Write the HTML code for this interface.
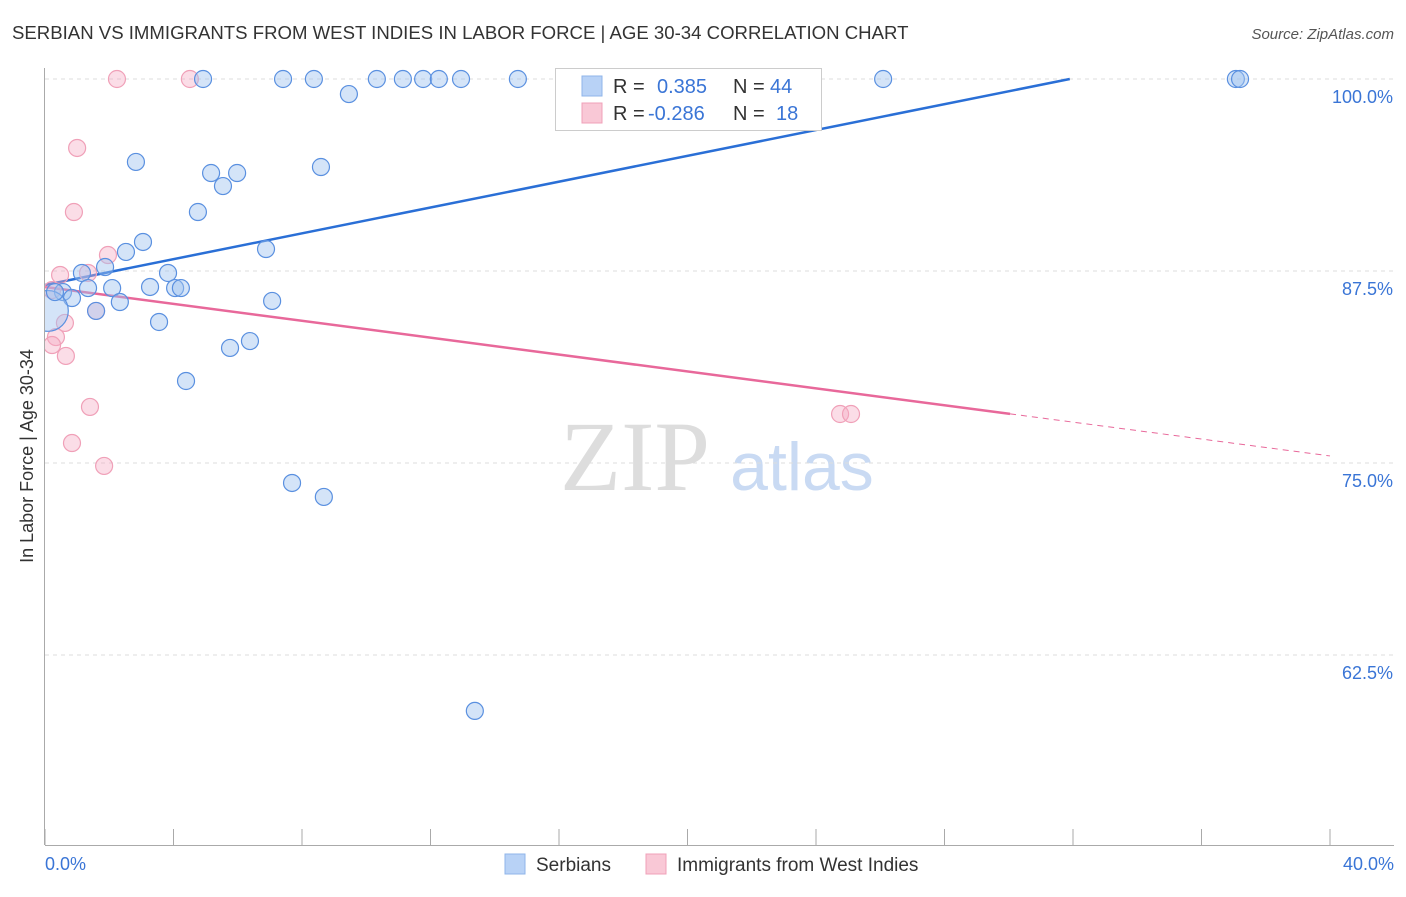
<!DOCTYPE html>
<html><head><meta charset="utf-8"><style>
body{margin:0;background:#fff;font-family:"Liberation Sans",sans-serif;}
</style></head><body>
<svg id="chart" width="1406" height="892" viewBox="0 0 1406 892" xmlns="http://www.w3.org/2000/svg" font-family="Liberation Sans, sans-serif">
<text x="12" y="39" font-size="18.6" fill="#333">SERBIAN VS IMMIGRANTS FROM WEST INDIES IN LABOR FORCE | AGE 30-34 CORRELATION CHART</text>
<text x="1394" y="39" font-size="15" fill="#555" font-style="italic" text-anchor="end">Source: ZipAtlas.com</text>
<text x="33" y="456" font-size="18" fill="#333" text-anchor="middle" transform="rotate(-90 33 456)">In Labor Force | Age 30-34</text>
<g>
<text x="635" y="490" font-size="100" fill="#ddd" font-family="Liberation Serif, serif" text-anchor="middle">ZIP</text>
<text x="802" y="490" font-size="68" fill="#c9daf3" text-anchor="middle">atlas</text>
</g>
<g id="grid"></g>
<g id="axes"></g>
<defs><clipPath id="clip"><rect x="45" y="60" width="1360" height="785"/></clipPath></defs>
<g id="lines"></g>
<g id="pts" clip-path="url(#clip)"></g>
<g>
<rect x="555.5" y="68.5" width="266" height="62" fill="#fff" stroke="#ccc"/>
<rect x="582" y="76" width="20" height="20" fill="#b8d2f6" stroke="#8fb4ea"/>
<rect x="582" y="103" width="20" height="20" fill="#f9c8d6" stroke="#f0a0b8"/>
<text x="613" y="93" font-size="20" fill="#333">R =</text>
<text x="657" y="93" font-size="20" fill="#3a75d6">0.385</text>
<text x="733" y="93" font-size="20" fill="#333">N =</text>
<text x="770" y="93" font-size="20" fill="#3a75d6">44</text>
<text x="613" y="120" font-size="20" fill="#333">R =</text>
<text x="648" y="120" font-size="20" fill="#3a75d6">-0.286</text>
<text x="733" y="120" font-size="20" fill="#333">N =</text>
<text x="776" y="120" font-size="20" fill="#3a75d6">18</text>
</g>
<g>
<rect x="505" y="854" width="20" height="20" fill="#b8d2f6" stroke="#8fb4ea"/>
<text x="536" y="871" font-size="19" fill="#333">Serbians</text>
<rect x="646" y="854" width="20" height="20" fill="#f9c8d6" stroke="#f0a0b8"/>
<text x="677" y="871" font-size="19" fill="#333">Immigrants from West Indies</text>
</g>
</svg>
<script>
const xTicks=[0,4,8,12,16,20,24,28,32,36,40];
const yTicks=[62.5,75,87.5,100];
const yTickLabels=["62.5%","75.0%","87.5%","100.0%"];
const serbX=[4.92,7.41,8.37,10.33,11.14,11.77,12.26,12.95,14.72,26.09,37.07,37.20,9.46,2.83,5.17,5.98,5.54,8.59,4.76,3.05,2.52,6.88,1.87,1.15,3.83,3.27,2.09,1.34,4.05,4.23,0.56,0.84,2.33,7.07,1.59,0.09,3.55,5.76,6.38,4.39,7.69,8.68,13.38,0.31];
const serbY=[100,100,100,100,100,100,100,100,100,100,100,100,99.02,94.6,93.88,93.88,93.03,94.27,91.34,89.39,88.74,88.93,87.76,87.37,87.37,86.46,86.39,86.39,86.39,86.39,86.13,85.74,85.48,85.55,84.9,84.9,84.18,82.49,82.94,80.34,73.7,72.79,58.86,86.13];
const serbSize=[1,1,1,1,1,1,1,1,1,1,1,1,1,1,1,1,1,1,1,1,1,1,1,1,1,1,1,1,1,1,1,1,1,1,1,2.4,1,1,1,1,1,1,1,1];
const wiX=[2.24,4.51,1.0,0.90,1.96,0.47,1.34,0.22,1.59,0.62,0.34,0.22,0.65,1.40,0.84,1.84,24.75,25.09];
const wiY=[100,100,95.51,91.34,88.54,87.24,87.37,86.26,84.9,84.12,83.2,82.68,81.97,78.65,76.3,74.81,78.19,78.19];
const serbTrend=[0,86.59,31.9,100];
const wiTrend=[0,86.46,40,75.46,30.04];
const X=v=>45+v/40*1285, Y=v=>79+(100-v)/12.5*192;
const NS="http://www.w3.org/2000/svg";
function mk(tag,attrs,parent){const e=document.createElementNS(NS,tag);for(const k in attrs)e.setAttribute(k,attrs[k]);parent.appendChild(e);return e;}
const grid=document.getElementById('grid'),axes=document.getElementById('axes'),lines=document.getElementById('lines'),pts=document.getElementById('pts');
yTicks.forEach((t,i)=>{
 const l=mk('line',{x1:45,x2:1394,y1:Y(t),y2:Y(t),stroke:'#ddd','stroke-dasharray':'4,4'},grid);
 
 
 const tx=mk('text',{x:1393,y:Y(t)+24,'font-size':18,fill:'#3a75d6','text-anchor':'end'},axes);
 tx.textContent=yTickLabels[i];
 
 
});
const ya=mk('line',{x1:44.5,x2:44.5,y1:68,y2:845,stroke:'#aaa'},axes);


const xa=mk('line',{x1:45,x2:1394,y1:845.5,y2:845.5,stroke:'#aaa'},axes);


xTicks.forEach(t=>{
 const l=mk('line',{x1:X(t),x2:X(t),y1:829,y2:845,stroke:'#aaa'},axes);
 
 
});
const xl0=mk('text',{x:45,y:870,'font-size':18,fill:'#3a75d6'},axes);xl0.textContent=xTicks[0].toFixed(1)+'%';


const xl1=mk('text',{x:1394,y:870,'font-size':18,fill:'#3a75d6','text-anchor':'end'},axes);xl1.textContent=xTicks[xTicks.length-1].toFixed(1)+'%';


wiX.forEach((v,i)=>{
 const c=mk('circle',{cx:X(v),cy:Y(wiY[i]),r:8.5,fill:'rgba(246,170,195,0.4)',stroke:'#f0a0b8','stroke-width':1.2},pts);
 
 
});
serbX.forEach((v,i)=>{
 const c=mk('circle',{cx:X(v),cy:Y(serbY[i]),r:8.5*serbSize[i],fill:'rgba(160,195,240,0.45)',stroke:'#5a90e0','stroke-width':1.2},pts);
 
 
});
const bl=mk('line',{x1:X(serbTrend[0]),y1:Y(serbTrend[1]),x2:X(serbTrend[2]),y2:Y(serbTrend[3]),stroke:'#2a6fd6','stroke-width':2.5},lines);


const slope=(wiTrend[3]-wiTrend[1])/(wiTrend[2]-wiTrend[0]);
const ye=wiTrend[1]+slope*wiTrend[4];
const pl=mk('line',{x1:X(wiTrend[0]),y1:Y(wiTrend[1]),x2:X(wiTrend[4]),y2:Y(ye),stroke:'#e8689a','stroke-width':2.5},lines);


const pd=mk('line',{x1:X(wiTrend[4]),y1:Y(ye),x2:X(wiTrend[2]),y2:Y(wiTrend[3]),stroke:'#e8689a','stroke-width':1,'stroke-dasharray':'6,5'},lines);


</script>
</body></html>
